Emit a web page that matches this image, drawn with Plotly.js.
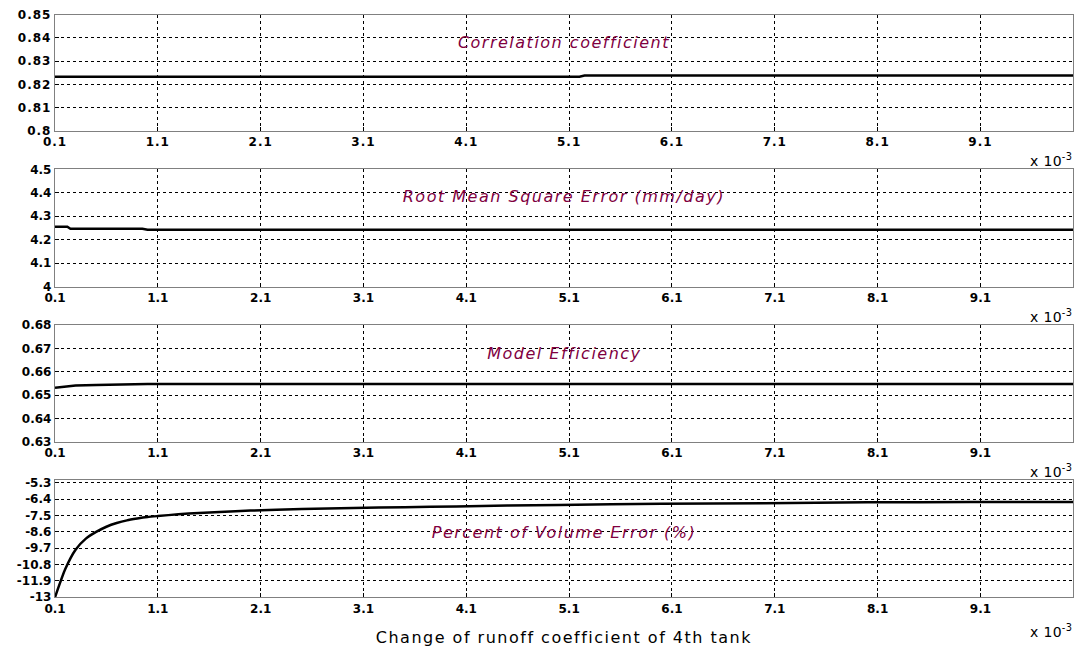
<!DOCTYPE html>
<html>
<head>
<meta charset="utf-8">
<script src="https://cdn.plot.ly/plotly-3.0.1.min.js"></script>
<style>
html,body{margin:0;padding:0;background:#fff}
#chart{width:1079px;height:646px}
#chart .xtick text, #chart .ytick text{letter-spacing:1px}
#chart .annotation-text{letter-spacing:1.5px}
#chart g.annotation[data-index="5"] .annotation-text,
#chart g.annotation[data-index="6"] .annotation-text,
#chart g.annotation[data-index="7"] .annotation-text,
#chart g.annotation[data-index="8"] .annotation-text{letter-spacing:0.3px}
</style>
</head>
<body>
<div id="chart"></div>
<script>
// x values in units of 1e-3
const xCorr = [0.1, 5.2, 5.25, 10.0];
const corrValues = [0.8233, 0.8233, 0.8238, 0.8238];

const xRmse = [0.1, 0.22, 0.25, 0.95, 1.0, 10.0];
const rmseValues = [4.2555, 4.2555, 4.247, 4.247, 4.2425, 4.2425];

const xEff = [0.1, 0.2, 0.3, 0.5, 0.7, 0.75, 1.0, 10.0];
const effValues = [0.6531, 0.6536, 0.6541, 0.6543, 0.6545, 0.6547, 0.6547, 0.6547];

const xPve = [0.1, 0.2, 0.3, 0.4, 0.5, 0.6, 0.7, 0.8, 0.9, 1.0, 1.1, 1.3, 1.5, 1.7, 2.0, 2.5, 3.0, 3.5, 4.0, 4.5, 5.0, 6.0, 7.0, 8.0, 9.0, 10.0];
const pveValues = [-13.0, -11.1, -9.8, -9.05, -8.6, -8.25, -8.0, -7.82, -7.7, -7.6, -7.53, -7.41, -7.32, -7.25, -7.16, -7.06, -6.98, -6.93, -6.88, -6.82, -6.78, -6.7, -6.66, -6.6, -6.59, -6.58];

const xTickVals = [0.1, 1.1, 2.1, 3.1, 4.1, 5.1, 6.1, 7.1, 8.1, 9.1];
const xTickText = ["0.1", "1.1", "2.1", "3.1", "4.1", "5.1", "6.1", "7.1", "8.1", "9.1"];

const corrTicks = [0.8, 0.81, 0.82, 0.83, 0.84, 0.85];
const corrTickText = ["0.8", "0.81", "0.82", "0.83", "0.84", "0.85"];
const rmseTicks = [4, 4.1, 4.2, 4.3, 4.4, 4.5];
const rmseTickText = ["4", "4.1", "4.2", "4.3", "4.4", "4.5"];
const effTicks = [0.63, 0.64, 0.65, 0.66, 0.67, 0.68];
const effTickText = ["0.63", "0.64", "0.65", "0.66", "0.67", "0.68"];
const pveTicks = [-13, -11.9, -10.8, -9.7, -8.6, -7.5, -6.4, -5.3];
const pveTickText = ["-13", "-11.9", "-10.8", "-9.7", "-8.6", "-7.5", "-6.4", "-5.3"];

const panelTitles = ["Correlation coefficient", "Root Mean Square Error (mm/day)", "Model Efficiency", "Percent of Volume Error (%)"];
const xTitle = "Change of runoff coefficient of 4th tank";

const lineStyle = {color: '#000', width: 2.5};
const traces = [
  {x: xCorr, y: corrValues, xaxis: 'x', yaxis: 'y', mode: 'lines', line: lineStyle},
  {x: xRmse, y: rmseValues, xaxis: 'x2', yaxis: 'y2', mode: 'lines', line: lineStyle},
  {x: xEff, y: effValues, xaxis: 'x3', yaxis: 'y3', mode: 'lines', line: lineStyle},
  {x: xPve, y: pveValues, xaxis: 'x4', yaxis: 'y4', mode: 'lines', line: Object.assign({shape: 'spline', smoothing: 0.6}, lineStyle)}
];

const FONT = 'DejaVu Sans, Verdana, sans-serif';
const tickFont = {family: FONT, size: 12, color: '#000', weight: 'bold'};
const gridStyle = {showgrid: true, gridcolor: '#000', gridwidth: 1, griddash: '3px,3px'};

function xAxis(anchor) {
  return Object.assign({
    domain: [0, 1], anchor: anchor, range: [0.1, 10.0],
    tickmode: 'array', tickvals: xTickVals, ticktext: xTickText,
    tickfont: tickFont, showline: true, mirror: true, linecolor: '#808080', linewidth: 1.2,
    zeroline: false, ticks: 'inside', ticklen: 4, tickcolor: '#000', fixedrange: true
  }, gridStyle);
}
function yAxis(anchor, domain, range, tv, tt) {
  return Object.assign({
    domain: domain, anchor: anchor, range: range,
    tickmode: 'array', tickvals: tv, ticktext: tt,
    tickfont: tickFont, showline: true, mirror: true, linecolor: '#808080', linewidth: 1.2,
    zeroline: false, ticks: 'inside', ticklen: 4, tickcolor: '#000', fixedrange: true
  }, gridStyle);
}

const d1 = [0.7977, 0.9772], d2 = [0.5562, 0.7379], d3 = [0.3163, 0.4969], d4 = [0.0754, 0.2570];

const titleFont = {family: FONT, size: 16, color: '#80003f', style: 'italic'};
const expFont = {family: FONT, size: 14, color: '#000'};

const annotations = [
  {text: panelTitles[0], xref: 'paper', yref: 'paper', x: 0.5, y: (646 - 43) / 646, showarrow: false, font: titleFont, yanchor: 'middle'},
  {text: panelTitles[1], xref: 'paper', yref: 'paper', x: 0.5, y: (646 - 197) / 646, showarrow: false, font: titleFont, yanchor: 'middle'},
  {text: panelTitles[2], xref: 'paper', yref: 'paper', x: 0.5, y: (646 - 353) / 646, showarrow: false, font: titleFont, yanchor: 'middle'},
  {text: panelTitles[3], xref: 'paper', yref: 'paper', x: 0.5, y: (646 - 532) / 646, showarrow: false, font: titleFont, yanchor: 'middle'},
  {text: xTitle, xref: 'paper', yref: 'paper', x: 0.5, y: (646 - 637) / 646, showarrow: false, yanchor: 'middle',
   font: {family: FONT, size: 16, color: '#000'}}
];
[160, 316, 471, 631].forEach(function (py) {
  annotations.push({text: 'x 10<sup>-3</sup>', xref: 'paper', yref: 'paper', x: 1.0, y: (646 - py) / 646,
    xanchor: 'right', yanchor: 'middle', showarrow: false, font: expFont});
});

const layout = {
  width: 1079, height: 646,
  margin: {l: 55, r: 6, t: 0, b: 0},
  paper_bgcolor: '#fff', plot_bgcolor: '#fff',
  showlegend: false,
  xaxis: xAxis('y'), yaxis: yAxis('x', d1, [0.8, 0.85], corrTicks, corrTickText),
  xaxis2: xAxis('y2'), yaxis2: yAxis('x2', d2, [4, 4.5], rmseTicks, rmseTickText),
  xaxis3: xAxis('y3'), yaxis3: yAxis('x3', d3, [0.63, 0.68], effTicks, effTickText),
  xaxis4: xAxis('y4'), yaxis4: yAxis('x4', d4, [-13, -5.1], pveTicks, pveTickText),
  annotations: annotations
};

Plotly.newPlot('chart', traces, layout, {displayModeBar: false, staticPlot: true});
</script>
</body>
</html>
